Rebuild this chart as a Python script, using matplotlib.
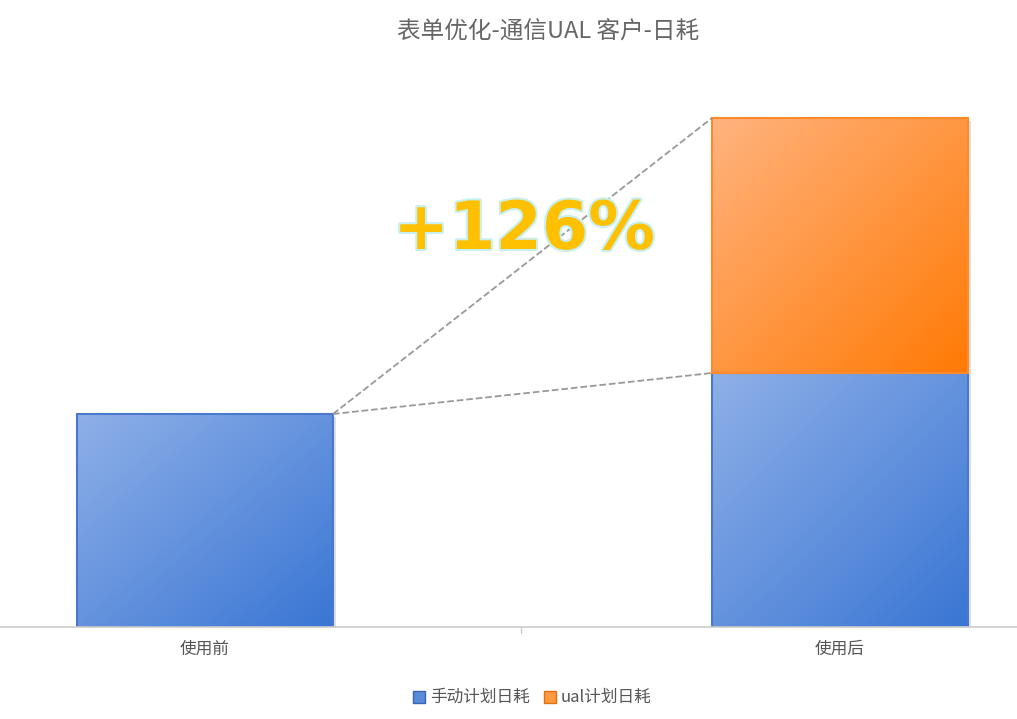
import matplotlib
matplotlib.use("Agg")
import matplotlib.pyplot as plt
import numpy as np
from matplotlib.patches import Rectangle
import matplotlib.patheffects as pe

plt.rcParams['font.family'] = ['Noto Sans CJK SC', 'DejaVu Sans']

categories = ['使用前', '使用后']
manual = [213, 254]
ual = [0, 255]
series_names = ['手动计划日耗', 'ual计划日耗']
title = '表单优化-通信UAL 客户-日耗'
growth_label = '+126%'

W, H = 1017, 719
fig = plt.figure(figsize=(W/100, H/100), dpi=100)
ax = fig.add_axes([0, (H-627)/H, 1, (627-60)/H])
ax.set_xlim(0, W)
ax.set_ylim(0, 627-60)
ax.axis('off')

xs = [205, 840]
bw = 256

def grad_bar(x0, y0, w, h, c1, c2, edge):
    n = 100
    u = np.linspace(0, 1, n)
    gx, gy = np.meshgrid(u, u[::-1])
    t = (gx + (1-gy)) / 2  # 0 top-left, 1 bottom-right
    c1 = np.array(matplotlib.colors.to_rgb(c1)); c2 = np.array(matplotlib.colors.to_rgb(c2))
    img = c1[None, None, :]*(1-t[..., None]) + c2[None, None, :]*t[..., None]
    sh = Rectangle((x0+3, y0-3), w, h, facecolor='#000000', alpha=0.12, edgecolor='none', zorder=1)
    ax.add_patch(sh)
    ax.imshow(img, extent=(x0, x0+w, y0, y0+h), aspect='auto', zorder=2, interpolation='bilinear')
    ax.add_patch(Rectangle((x0, y0), w, h, facecolor='none', edgecolor=edge, lw=1.5, zorder=3))

for i, x in enumerate(xs):
    grad_bar(x-bw/2, 0, bw, manual[i], '#8fb0e8', '#3a76d4', '#4a78cc')
    if ual[i] > 0:
        grad_bar(x-bw/2, manual[i], bw, ual[i], '#ffb37f', '#ff7a05', '#ff8a2a')
ax.set_xlim(0, W); ax.set_ylim(0, 627-60)

# dashed connectors
x_from = xs[0] + bw/2
x_to = xs[1] - bw/2
ax.plot([x_from, x_to], [manual[0], manual[1]+ual[1]], ls='--', color='#999999', lw=1.3, zorder=4)
ax.plot([x_from, x_to], [manual[0], manual[1]], ls='--', color='#999999', lw=1.3, zorder=4)

# baseline and tick
fig.add_artist(plt.Line2D([0, 1], [(H-627)/H]*2, color='#cccccc', lw=1.2))
fig.add_artist(plt.Line2D([521/W]*2, [(H-627)/H, (H-633)/H], color='#cccccc', lw=1))
for i, x in enumerate(xs):
    fig.text(x/W, (H-649)/H, categories[i], ha='center', va='center', fontsize=12, color='#555555')

fig.text(548/W, (H-32)/H, title, ha='center', va='center', fontsize=17, color='#666666')

t = fig.text(524/W, (H-230)/H, growth_label, ha='center', va='center', fontsize=48,
             fontweight='bold', color='#ffc000', family=['DejaVu Sans'])
t.set_path_effects([pe.withStroke(linewidth=3, foreground='#c8f0f0')])

# legend
ly = (H-697)/H
fig.patches.append(Rectangle((413/W, ly-6/H), 12/W, 12/H, transform=fig.transFigure,
                             facecolor='#5a8ad8', edgecolor='#3a66b8', lw=1))
fig.text(430/W, ly, series_names[0], ha='left', va='center', fontsize=12, color='#555555')
fig.patches.append(Rectangle((544/W, ly-6/H), 12/W, 12/H, transform=fig.transFigure,
                             facecolor='#ff9a40', edgecolor='#e07010', lw=1))
fig.text(561/W, ly, series_names[1], ha='left', va='center', fontsize=12, color='#555555')

fig.savefig('out.png', dpi=100)
